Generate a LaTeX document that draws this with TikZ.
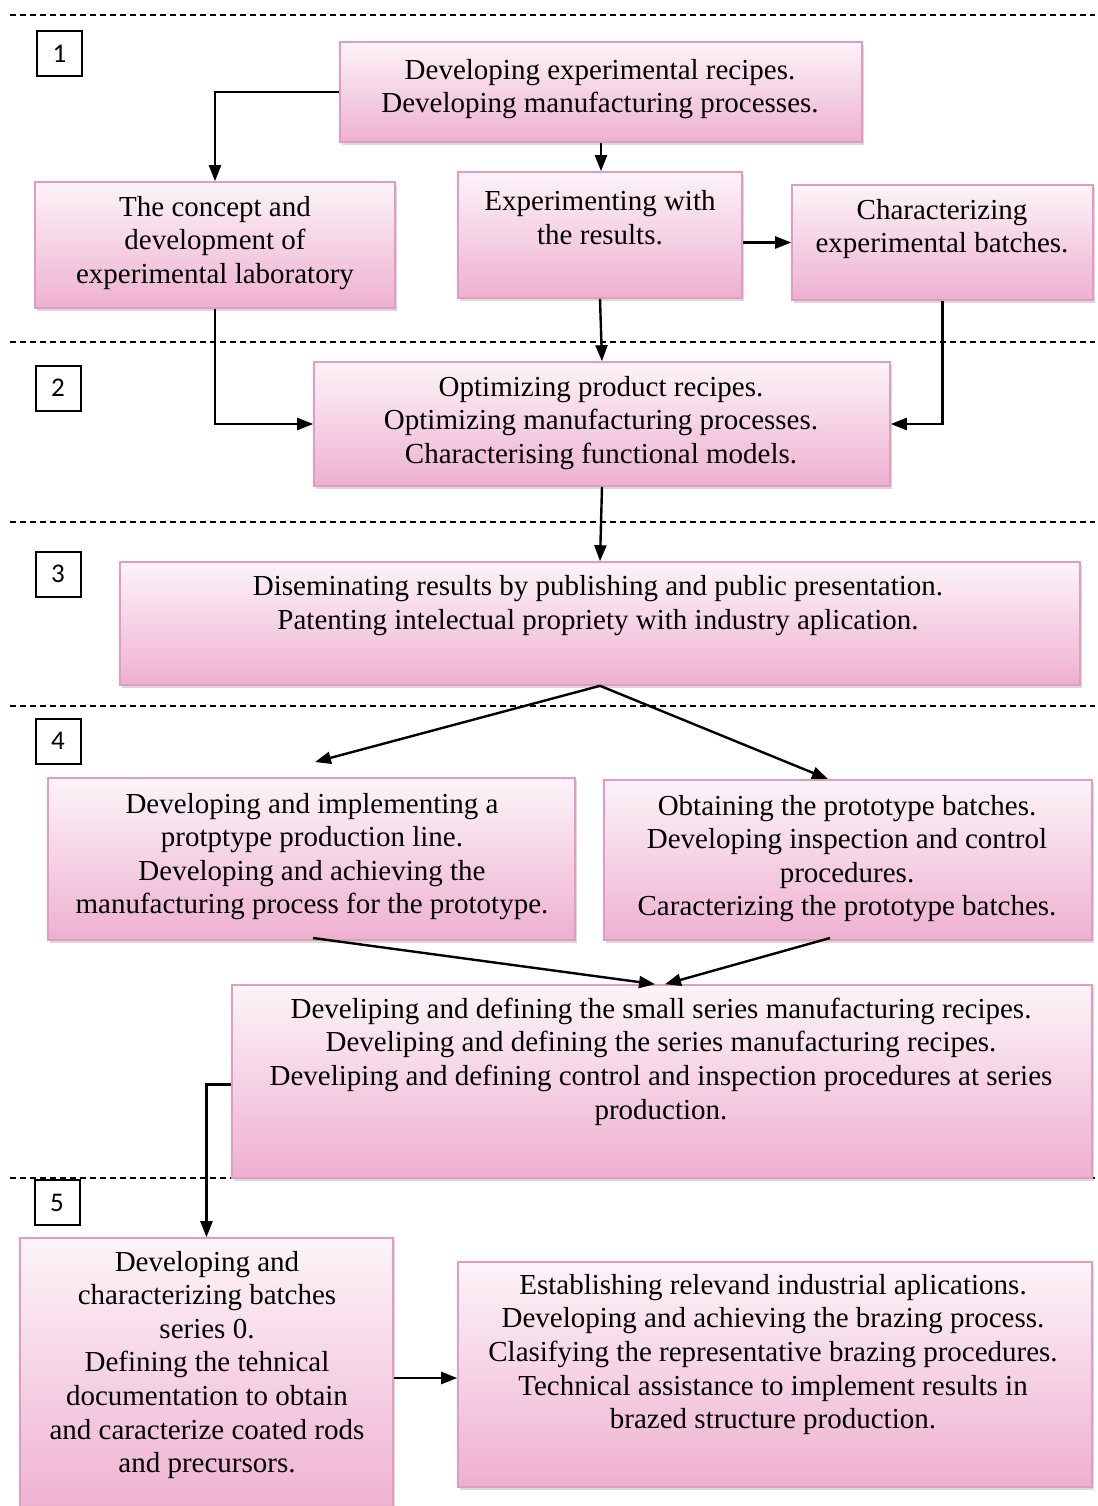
\documentclass[tikz,border=0pt]{standalone}
\usepackage{fontspec}
\setmainfont{Liberation Serif}
\newfontfamily\numfont{Carlito}
\usetikzlibrary{shadows,arrows.meta}
\definecolor{boxline}{HTML}{E39BC2}
\definecolor{boxpink}{HTML}{EEB0D0}
\definecolor{boxtop}{HTML}{FCF4F8}

\begin{document}
\begin{tikzpicture}[x=1pt,y=-1pt,
    stage/.style={draw=boxline, line width=1.6pt, top color=boxtop, bottom color=boxpink,
      drop shadow={shadow xshift=2pt, shadow yshift=-3pt, opacity=0.3}, inner sep=0pt},
    words/.style={align=center, inner sep=0pt, font=\fontsize{29}{33.6}\selectfont},
    phase/.style={draw, line width=2pt, minimum width=45pt, minimum height=45pt,
      font=\numfont\fontsize{27}{30}\selectfont},
    level/.style={line width=1.6pt, dash pattern=on 6pt off 4pt},
    flow/.style={-{Triangle[length=16pt,width=12pt]}, line width=2.4pt}]
    \useasboundingbox (0,0) rectangle (1097,1506);

    % phase separators
    \draw[level] (10,15) -- (1095,15);
    \draw[level] (10,342) -- (1095,342);
    \draw[level] (10,522) -- (1095,522);
    \draw[level] (10,706) -- (1095,706);
    \draw[level] (10,1178) -- (1095,1178);

    \node[phase] (p1) at (59.5,54) {1};
    \node[phase] (p2) at (58,388) {2};
    \node[phase] (p3) at (58,574) {3};
    \node[phase] (p4) at (58,741) {4};
    \node[phase] (p5) at (57,1202.5) {5};

    % phase 1
    \node[stage, minimum width=522pt, minimum height=100pt] (recipes) at (601,92) {};
    \node[words] (recipesT) at (600,89) {Developing experimental recipes.\\Developing manufacturing processes.};
    \node[stage, minimum width=360pt, minimum height=126pt] (lab) at (215,245) {};
    \node[words] (labT) at (215,243) {The concept and\\development of\\experimental laboratory};
    \node[stage, minimum width=284pt, minimum height=126pt] (trials) at (600,235) {};
    \node[words] (trialsT) at (600,217.5) {Experimenting with\\the results.};
    \node[stage, minimum width=301pt, minimum height=115pt] (batches) at (942.5,242.5) {};
    \node[words] (batchesT) at (942,229) {Characterizing\\experimental batches.};

    % phase 2
    \node[stage, minimum width=576pt, minimum height=124pt] (optim) at (602,424) {};
    \node[words] (optimT) at (601,423) {Optimizing product recipes.\\Optimizing manufacturing processes.\\Characterising functional models.};

    % phase 3
    \node[stage, minimum width=960pt, minimum height=123pt] (publish) at (600,623.5) {};
    \node[words] (publishT) at (598,605.5) {Diseminating results by publishing and public presentation.\\Patenting intelectual propriety with industry aplication.};

    % phase 4
    \node[stage, minimum width=527pt, minimum height=162pt] (line) at (311.5,859) {};
    \node[words] (lineT) at (312,856.5) {Developing and implementing a\\protptype production line.\\Developing and achieving the\\manufacturing process for the prototype.};
    \node[stage, minimum width=488pt, minimum height=160pt] (proto) at (848,860) {};
    \node[words] (protoT) at (847,858.5) {Obtaining the prototype batches.\\Developing inspection and control\\procedures.\\Caracterizing the prototype batches.};
    \node[stage, minimum width=860pt, minimum height=193pt] (series) at (662,1081.5) {};
    \node[words] (seriesT) at (661,1061.5) {Develiping and defining the small series manufacturing recipes.\\Develiping and defining the series manufacturing recipes.\\Develiping and defining control and inspection procedures at series\\production.};

    % phase 5
    \node[stage, minimum width=373pt, minimum height=280pt] (zero) at (206.5,1378) {};
    \node[words] (zeroT) at (207,1365) {Developing and\\characterizing batches\\series 0.\\Defining the tehnical\\documentation to obtain\\and caracterize coated rods\\and precursors.};
    \node[stage, minimum width=634pt, minimum height=225pt] (apps) at (775,1374.5) {};
    \node[words] (appsT) at (773,1354.5) {Establishing relevand industrial aplications.\\Developing and achieving the brazing process.\\Clasifying the representative brazing procedures.\\Technical assistance to implement results in\\brazed structure production.};

    \coordinate (lineTip) at (315,762);
    \coordinate (protoTip) at (828,779);
    \coordinate (lineOut) at (313,938);
    \coordinate (protoOut) at (830,938);

    \draw[flow] (recipes.west) -| (lab.north);
    \draw[flow] (recipes.south) -- (recipes.south |- trials.north);
    \draw[flow] (trials.east |- batches.west) -- (batches.west);
    \draw[flow] (trials.south) -- (optim.north);
    \draw[flow] (lab.south) |- (optim.west);
    \draw[flow] (batches.south) |- (optim.east);
    \draw[flow] (optim.south) -- (publish.north);
    \draw[flow] (publish.south) -- (lineTip);
    \draw[flow] (publish.south) -- (protoTip);
    \draw[flow] (lineOut) -- ([xshift=-7pt]series.north);
    \draw[flow] (protoOut) -- ([xshift=3pt]series.north);
    \draw[flow] ([yshift=-3pt]series.west) -| (zero.north);
    \draw[flow] (zero.east) -- (zero.east -| apps.west);
\end{tikzpicture}
\end{document}
